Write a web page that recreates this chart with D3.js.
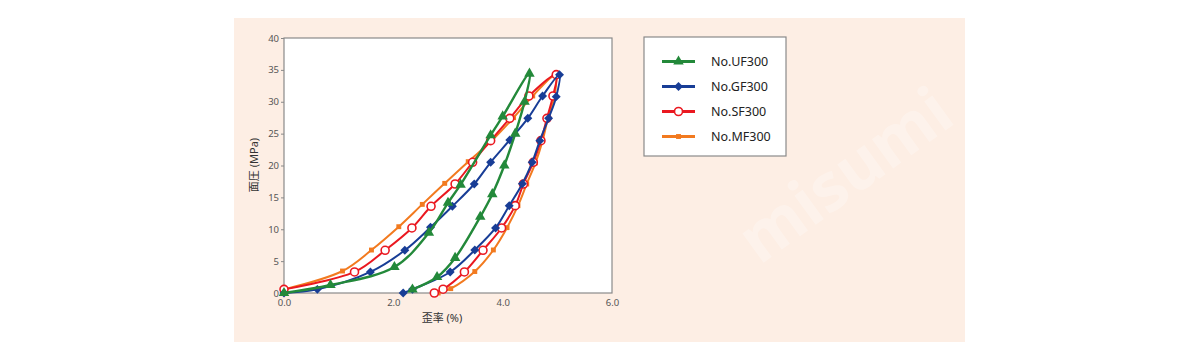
<!DOCTYPE html>
<html><head><meta charset="utf-8">
<script src="https://cdn.jsdelivr.net/npm/d3@7"></script>
<style>html,body{margin:0;padding:0;background:#fff;}svg{display:block;font-family:"Noto Sans","Noto Sans CJK JP",sans-serif;}</style>
</head><body>
<svg id="c" width="1198" height="360"></svg>
<script>
// ---- data ----
const xTicks = [0, 2, 4, 6];
const yTicks = [0, 5, 10, 15, 20, 25, 30, 35, 40];
const seriesNames = ["No.UF300", "No.GF300", "No.SF300", "No.MF300"];

const ufX = [0, 0.85, 2.02, 2.65, 3.0, 3.23, 3.78, 4.0, 4.49, 4.40, 4.23, 4.03, 3.81, 3.59, 3.13, 2.80, 2.35];
const ufY = [0, 1.25, 4.07, 9.45, 14.15, 17.0, 24.75, 27.7, 34.4, 30.0, 25.0, 20.0, 15.5, 11.95, 5.5, 2.5, 0.55];

const gfX = [0, 0.61, 1.58, 2.21, 2.68, 3.08, 3.48, 3.78, 4.13, 4.46, 4.73, 5.04, 4.98, 4.84, 4.68, 4.54, 4.36, 4.12, 3.87, 3.49, 3.04, 2.35, 2.18];
const gfY = [0, 0.57, 3.3, 6.7, 10.3, 13.6, 17.1, 20.5, 24.0, 27.4, 30.9, 34.25, 30.8, 27.4, 23.9, 20.5, 17.15, 13.7, 10.2, 6.75, 3.3, 0.57, 0];

const sfX = [0, 1.29, 1.85, 2.34, 2.69, 3.13, 3.45, 3.78, 4.13, 4.48, 4.98, 4.92, 4.81, 4.70, 4.56, 4.38, 4.23, 3.98, 3.64, 3.30, 2.91, 2.75];
const sfY = [0.57, 3.3, 6.7, 10.2, 13.6, 17.1, 20.5, 23.9, 27.4, 30.9, 34.25, 30.9, 27.4, 23.9, 20.5, 17.1, 13.7, 10.2, 6.7, 3.3, 0.6, 0];

const mfX = [0, 1.07, 1.60, 2.10, 2.53, 2.94, 3.37, 3.79, 4.20, 4.55, 4.96, 4.95, 4.83, 4.73, 4.60, 4.44, 4.28, 4.08, 3.83, 3.49, 3.05, 2.82];
const mfY = [0.57, 3.45, 6.74, 10.4, 13.9, 17.2, 20.6, 23.8, 27.5, 30.9, 34.1, 30.9, 27.5, 23.9, 20.4, 17.1, 13.7, 10.25, 6.75, 3.37, 0.68, 0];

const colors = ["#23893a", "#183d96", "#ea1820", "#f27a1f"];

// ---- chart ----
const svg = d3.select("#c");
svg.append("rect").attr("x",234).attr("y",18).attr("width",731).attr("height",324).attr("fill","#fdeee4");

// watermark (faint)
const wm = svg.append("g").attr("fill","#ffffff").attr("opacity",0.28).attr("font-size",66).attr("font-weight","bold");
wm.append("text").attr("transform",`translate(845,175) rotate(-36)`).attr("text-anchor","middle").attr("dy","0.35em").text("misumi");

const L=284, R=612, T=38, B=293;
const x = d3.scaleLinear().domain([0,6]).range([L,R]);
const y = d3.scaleLinear().domain([0,40]).range([B,T]);

svg.append("rect").attr("x",L).attr("y",T).attr("width",R-L).attr("height",B-T).attr("fill","#fff");
svg.append("rect").attr("x",L).attr("y",T).attr("width",R-L).attr("height",B-T).attr("fill","none").attr("stroke","#8a8a8a").attr("stroke-width",1.2);

// axes
const gx = svg.append("g").attr("transform",`translate(0,${B})`)
  .call(d3.axisBottom(x).tickValues(xTicks).tickFormat(d3.format(".1f")).tickSize(0).tickPadding(6));
const gy = svg.append("g").attr("transform",`translate(${L},0)`)
  .call(d3.axisLeft(y).tickValues(yTicks).tickSize(3).tickPadding(2));
[gx,gy].forEach(g=>{
  g.select(".domain").remove();
  g.selectAll("text").attr("fill","#555").attr("font-size",9.5).attr("font-family","'Noto Sans',sans-serif");
  g.selectAll("line").attr("stroke","#888");
});

svg.append("text").attr("x",442).attr("y",322).attr("text-anchor","middle").attr("font-size",11).attr("fill","#333").text("歪率 (%)");
svg.append("text").attr("transform",`translate(258,165) rotate(-90)`).attr("text-anchor","middle").attr("font-size",11).attr("fill","#333").text("面圧 (MPa)");

const line = d3.line().x(d=>x(d[0])).y(d=>y(d[1])).curve(d3.curveCatmullRom.alpha(0.5));
const zip = (a,b)=>a.map((v,i)=>[v,b[i]]);
const data = [zip(ufX,ufY), zip(gfX,gfY), zip(sfX,sfY), zip(mfX,mfY)];
const widths = [2.4, 2, 2, 2];
const symbols = [d3.symbolTriangle, d3.symbolDiamond2, d3.symbolCircle, d3.symbolSquare];
const sizes = [48, 70, 55, 24];

function drawMarker(g, i, px, py){
  if(i===2){
    g.append("circle").attr("cx",px).attr("cy",py).attr("r",4).attr("fill","#fff").attr("stroke",colors[i]).attr("stroke-width",1.6);
  } else {
    const s = i===1 ? d3.symbol().type(d3.symbolSquare).size(40) : d3.symbol().type(symbols[i]).size(sizes[i]);
    const p = g.append("path").attr("d",s()).attr("fill",colors[i]);
    if(i===1) p.attr("transform",`translate(${px},${py}) rotate(45)`);
    else p.attr("transform",`translate(${px},${py})`);
  }
}

const order = [3,2,1,0];
order.forEach(i=>{
  const g = svg.append("g");
  g.append("path").attr("d",line(data[i])).attr("fill","none").attr("stroke",colors[i]).attr("stroke-width",widths[i]).attr("stroke-linejoin","round");
  data[i].forEach(d=>drawMarker(g,i,x(d[0]),y(d[1])));
});

// legend
svg.append("rect").attr("x",644).attr("y",37).attr("width",142).attr("height",119).attr("fill","#fff").attr("stroke","#8a8a8a").attr("stroke-width",1.2);
const ly = d3.scaleBand().domain(seriesNames).range([49,149]);
seriesNames.forEach((n,i)=>{
  const cy = ly(n)+ly.bandwidth()/2;
  const g = svg.append("g");
  g.append("line").attr("x1",662).attr("x2",695).attr("y1",cy).attr("y2",cy).attr("stroke",colors[i]).attr("stroke-width",3);
  drawMarker(g,i,678.5,cy);
  g.append("text").attr("x",711).attr("y",cy).attr("dy","0.36em").attr("font-size",12.5).attr("fill","#222").text(n);
});
</script>
</body></html>
